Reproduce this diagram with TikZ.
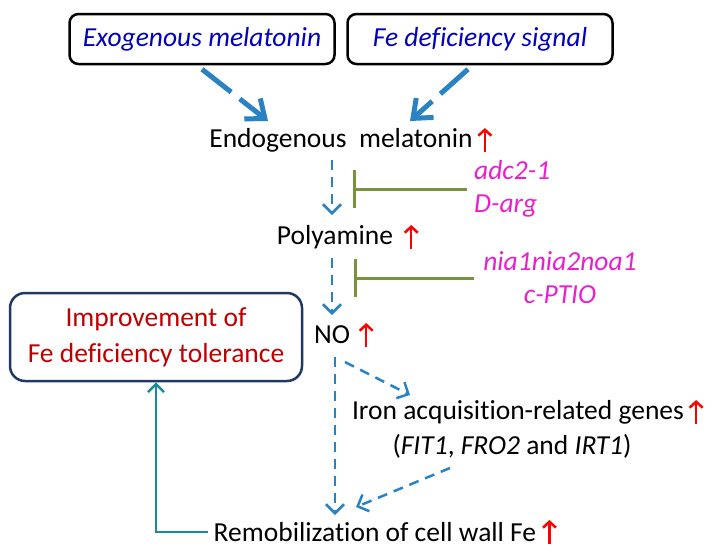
\documentclass[tikz,border=0pt]{standalone}
\usepackage{fontspec}
\setmainfont{Carlito}[Ligatures=NoCommon]
\usetikzlibrary{arrows.meta,calc}
\definecolor{srcblue}{RGB}{0,0,190}
\definecolor{arrblue}{RGB}{40,130,196}
\definecolor{navy}{RGB}{31,56,100}
\definecolor{darkred}{RGB}{192,0,0}
\definecolor{inhgreen}{RGB}{119,147,60}
\definecolor{mag}{RGB}{235,30,205}
\definecolor{tealc}{RGB}{24,140,152}
\begin{document}
\begin{tikzpicture}[x=1pt,y=-1pt,
  every node/.style={font=\fontsize{27.5}{33}\selectfont},
  srcbox/.style={draw=black,line width=2.5pt,rounded corners=9pt,minimum width=265pt,minimum height=50pt,inner sep=0pt,text=srcblue,font=\fontsize{27.5}{33}\selectfont\itshape},
  tolbox/.style={draw=navy,line width=2.5pt,rounded corners=15pt,minimum width=292pt,minimum height=88pt,inner sep=0pt,text=darkred,align=center,font=\fontsize{27.5}{36}\selectfont},
  txt/.style={inner sep=0pt,text=black},
  inh/.style={inner sep=0pt,text=mag,font=\fontsize{27.5}{33}\selectfont\itshape},
  thickarrow/.style={draw=arrblue,line width=5pt,dash pattern=on 37pt off 11pt,-{Straight Barb[length=16pt,width=26pt]}},
  dasharrow/.style={draw=arrblue,line width=2.5pt,dash pattern=on 10pt off 7pt,-{Straight Barb[length=9pt,width=18pt]}},
  uparrow/.style={draw=red,line width=2.5pt,-{Straight Barb[length=6pt,width=13pt]}},
  inhib/.style={draw=inhgreen,line width=3pt,-{Bar[width=38pt]}},
  tealarrow/.style={draw=tealc,line width=2.5pt,-{Straight Barb[length=8pt,width=16pt]}}
]
\useasboundingbox (0,0) rectangle (717,558);

\node[srcbox] (exo) at (202,39) {Exogenous melatonin};
\node[srcbox] (fe) at (480,39) {Fe deficiency signal};
\node[txt] (endo) at (341,140) {Endogenous\ \ melatonin};
\node[txt] (poly) at (335,237) {Polyamine};
\node[txt] (no) at (332,335) {NO};
\node[tolbox] (tol) at (156,337) {Improvement of\\Fe deficiency tolerance};
\node[txt] (iron) at (518,412) {Iron acquisition-related genes};
\node[txt] (fit) at (512,446) {(\textit{FIT1}, \textit{FRO2} and \textit{IRT1})};
\node[txt] (remob) at (375,532) {Remobilization of cell wall Fe};
\node[inh,align=left,anchor=west] (inhA) at (474,189) {adc2-1\\D-arg};
\node[inh,align=center] (inhB) at (560,278) {nia1nia2noa1\\c-PTIO};

% red up arrows
\draw[uparrow] (endo.east) ++(12,12) -- ++(0,-24);
\draw[uparrow] (poly.east) ++(18,12) -- ++(0,-24);
\draw[uparrow] (no.east) ++(16,12) -- ++(0,-24);
\draw[uparrow] (iron.east) ++(12,12) -- ++(0,-24);
\draw[uparrow] (remob.east) ++(13,12) -- ++(0,-24);

% thick arrows
\draw[thickarrow] ($(exo.south)+(0,4)$) -- ($(endo)+(-73,-19)$);
\draw[thickarrow] ($(fe.south)+(-12,4)$) -- ($(endo)+(69,-19)$);

% dashed chain
\draw[dasharrow] ($(endo -| no)+(0,20)$) -- ($(poly -| no)+(0,-22)$);
\draw[dasharrow] ($(poly -| no)+(0,21)$) -- ($(no)+(0,-20)$);
\draw[dasharrow] ($(no)+(3,22)$) -- ($(remob -| no)+(3,-17)$);
\draw[dasharrow] ($(no)+(13,27)$) -- ($(iron)+(-108,-17)$);
\draw[dasharrow] ($(fit)+(-62,22)$) -- ($(remob)+(-19,-25)$);

% inhibitors
\draw[inhib] ($(inhA.west)+(-7,0)$) -- ($(inhA.west -| no)+(21,0)$);
\draw[inhib] ($(inhB.west)+(-9,0)$) -- ($(inhB.west -| no)+(22,0)$);

% teal feedback
\draw[tealarrow] ($(remob.west)+(-6,0)$) -| (tol.south);
\end{tikzpicture}
\end{document}
